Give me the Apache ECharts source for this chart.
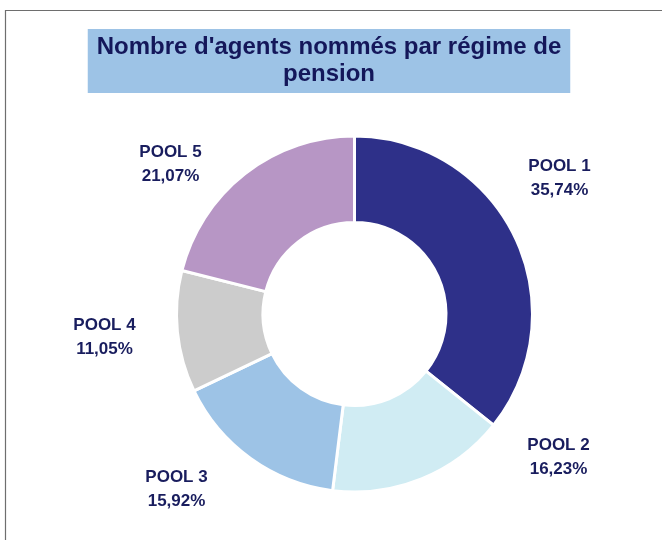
<!DOCTYPE html>
<html>
<head>
<meta charset="utf-8">
<script src="https://cdn.jsdelivr.net/npm/echarts@6/dist/echarts.min.js"></script>
<style>
  html, body { margin: 0; padding: 0; background: #fff; }
  #chart { width: 662px; height: 540px; }
</style>
</head>
<body>
<div id="chart"></div>
<script>
// données
var pools = ['POOL 1', 'POOL 2', 'POOL 3', 'POOL 4', 'POOL 5'];
var parts = [35.74, 16.23, 15.92, 11.05, 21.07];
var couleurs = ['#2E3089', '#D0ECF3', '#9DC3E6', '#CCCCCC', '#B796C5'];

// centre du donut et décalage des étiquettes (mise en page seulement)
var cx = 354.5, cy = 314;
var labelOffsets = [[205, -136], [204, 143], [-178, 175], [-250, 23], [-184, -150]];

var chart = echarts.init(document.getElementById('chart'));

var option = {
  animation: false,
  backgroundColor: '#ffffff',
  title: {
    text: "Nombre d'agents nommés par régime de\npension",
    left: 320,
    top: 29,
    padding: [5, 9],
    backgroundColor: '#9DC3E6',
    textAlign: 'center',
    textStyle: {
      fontFamily: 'Liberation Sans, Arial, sans-serif',
      fontWeight: 'bold',
      fontSize: 24,
      lineHeight: 27,
      color: '#14175A'
    }
  },
  graphic: [
    {
      // cadre du graphique (seuls les bords gauche et haut sont visibles)
      type: 'rect',
      silent: true,
      shape: { x: 5.5, y: 10.5, width: 720, height: 620 },
      style: { fill: 'none', stroke: '#6E6E6E', lineWidth: 1.2 },
      z: -1
    }
  ],
  series: [
    {
      name: 'Régime de pension',
      type: 'pie',
      center: [cx, cy],
      radius: [91.5, 178],
      startAngle: 90,
      clockwise: true,
      avoidLabelOverlap: false,
      itemStyle: {
        borderColor: '#ffffff',
        borderWidth: 3
      },
      label: {
        show: true,
        position: 'outside',
        fontFamily: 'Liberation Sans, Arial, sans-serif',
        fontWeight: 'bold',
        fontSize: 17,
        lineHeight: 24,
        color: '#191D5E',
        formatter: function (p) {
          return p.name + '\n' + p.value.toFixed(2).replace('.', ',') + '%';
        }
      },
      labelLine: { show: false },
      labelLayout: function (params) {
        var o = labelOffsets[params.dataIndex];
        return { x: cx + o[0], y: cy + o[1], align: 'center', verticalAlign: 'middle' };
      },
      data: pools.map(function (nom, i) {
        return { name: nom, value: parts[i], itemStyle: { color: couleurs[i] } };
      })
    }
  ]
};

chart.setOption(option);
</script>
</body>
</html>
